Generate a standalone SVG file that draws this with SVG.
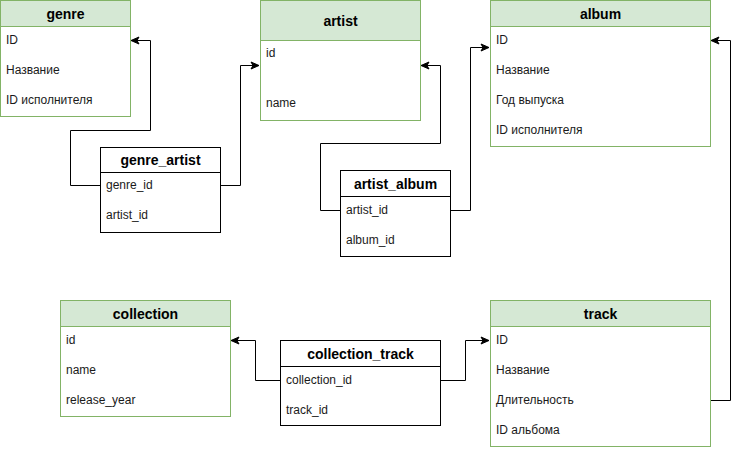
<svg xmlns="http://www.w3.org/2000/svg" width="739" height="450" viewBox="0 0 739 450">
<defs>
<style>
.t{fill:#ffffff;stroke:#82b366;stroke-width:1}
.h{fill:#d5e8d4;stroke:#82b366;stroke-width:1}
.tb{fill:#ffffff;stroke:#000000;stroke-width:1}
.ttl{font-family:"Liberation Sans",Arial,sans-serif;font-size:14px;font-weight:bold;fill:#000;text-anchor:middle;dominant-baseline:central}
.row{font-family:"Liberation Sans",Arial,sans-serif;font-size:12px;fill:#1a1a1a;dominant-baseline:central}
.c{fill:none;stroke:#000;stroke-width:1;marker-end:url(#arr)}
</style>
<marker id="arr" markerUnits="userSpaceOnUse" markerWidth="10" markerHeight="10" viewBox="0 0 10 10" refX="9" refY="5" orient="auto">
<path d="M1,1.5 L9,5 L1,8.5 L3,5 Z" fill="#000" stroke="#000" stroke-width="1"/>
</marker>
</defs>
<rect width="739" height="450" fill="#fff"/>

<g id="connectors">
<path class="c" d="M100.5,185.5 H70.5 V130.5 H150.5 V40.5 H131"/>
<path class="c" d="M220.5,185.5 H240.5 V65.5 H259"/>
<path class="c" d="M340.5,210.5 H320.5 V143.5 H440.5 V65.5 H421"/>
<path class="c" d="M450.5,210.5 H470.5 V47.5 H489"/>
<path class="c" d="M710.5,400.5 H730.5 V40.5 H711"/>
<path class="c" d="M280.5,380.5 H255.5 V340.5 H231"/>
<path class="c" d="M440.5,380.5 H465.5 V340.5 H489"/>
</g>

<g id="genre">
<rect class="t" x="0.5" y="0.5" width="130" height="116"/>
<rect class="h" x="0.5" y="0.5" width="130" height="26"/>
<text class="ttl" x="65.5" y="14">genre</text>
<text class="row" x="6" y="40">ID</text>
<text class="row" x="6" y="70">Название</text>
<text class="row" x="6" y="100">ID исполнителя</text>
</g>

<g id="artist">
<rect class="t" x="260.5" y="0.5" width="160" height="120"/>
<rect class="h" x="260.5" y="0.5" width="160" height="40"/>
<text class="ttl" x="340.5" y="21">artist</text>
<text class="row" x="266" y="53">id</text>
<text class="row" x="266" y="103">name</text>
</g>

<g id="album">
<rect class="t" x="490.5" y="0.5" width="220" height="146"/>
<rect class="h" x="490.5" y="0.5" width="220" height="26"/>
<text class="ttl" x="600.5" y="14">album</text>
<text class="row" x="496" y="40">ID</text>
<text class="row" x="496" y="70">Название</text>
<text class="row" x="496" y="100">Год выпуска</text>
<text class="row" x="496" y="130">ID исполнителя</text>
</g>

<g id="genre_artist">
<rect class="tb" x="100.5" y="147.5" width="120" height="85"/>
<line x1="100.5" y1="172.5" x2="220.5" y2="172.5" stroke="#000"/>
<text class="ttl" x="160.5" y="160">genre_artist</text>
<text class="row" x="106" y="185">genre_id</text>
<text class="row" x="106" y="215">artist_id</text>
</g>

<g id="artist_album">
<rect class="tb" x="340.5" y="170.5" width="110" height="86"/>
<line x1="340.5" y1="196.5" x2="450.5" y2="196.5" stroke="#000"/>
<text class="ttl" x="395.5" y="184">artist_album</text>
<text class="row" x="346" y="210">artist_id</text>
<text class="row" x="346" y="240">album_id</text>
</g>

<g id="collection">
<rect class="t" x="60.5" y="300.5" width="170" height="116"/>
<rect class="h" x="60.5" y="300.5" width="170" height="26"/>
<text class="ttl" x="145.5" y="314">collection</text>
<text class="row" x="66" y="340">id</text>
<text class="row" x="66" y="370">name</text>
<text class="row" x="66" y="400">release_year</text>
</g>

<g id="collection_track">
<rect class="tb" x="280.5" y="340.5" width="160" height="85"/>
<line x1="280.5" y1="366.5" x2="440.5" y2="366.5" stroke="#000"/>
<text class="ttl" x="360.5" y="354">collection_track</text>
<text class="row" x="286" y="380">collection_id</text>
<text class="row" x="286" y="410">track_id</text>
</g>

<g id="track">
<rect class="t" x="490.5" y="300.5" width="220" height="146"/>
<rect class="h" x="490.5" y="300.5" width="220" height="26"/>
<text class="ttl" x="600.5" y="314">track</text>
<text class="row" x="496" y="340">ID</text>
<text class="row" x="496" y="370">Название</text>
<text class="row" x="496" y="400">Длительность</text>
<text class="row" x="496" y="430">ID альбома</text>
</g>
</svg>
